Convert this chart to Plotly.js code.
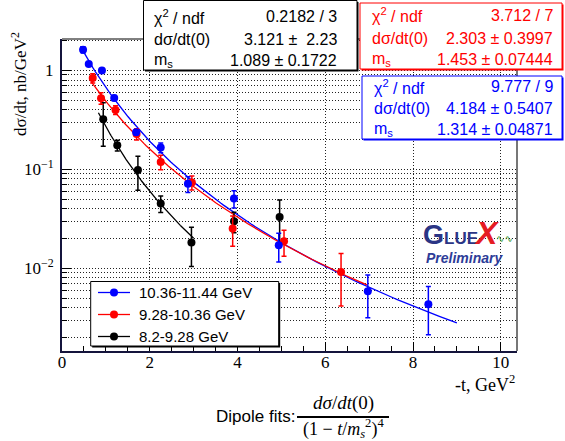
<!DOCTYPE html>
<html><head><meta charset="utf-8">
<script src="https://cdn.plot.ly/plotly-3.0.1.min.js"></script>
<style>html,body{margin:0;padding:0;background:#fff}#chart{width:565px;height:441px}</style>
</head><body><div id="chart"></div>
<script>
// ---- data ----
const seriesNames = ['10.36-11.44 GeV', '9.28-10.36 GeV', '8.2-9.28 GeV'];
const seriesColors = ['#0000ff', '#ff0000', '#000000'];

const blueT   = [0.48, 0.61, 0.91, 1.19, 1.69, 2.25, 2.87, 3.92, 4.94, 6.97, 8.35];
const blueY   = [1.62, 1.16, 1.00, 0.528, 0.237, 0.166, 0.0714, 0.0508, 0.0171, 0.00587, 0.00433];
const blueErr = [0.12, 0.045, 0.04, 0.03, 0.015, 0.019, 0.013, 0.010, 0.0055, 0.0027, 0.0022];

const redT    = [0.70, 0.89, 1.22, 1.70, 2.25, 2.96, 3.89, 5.06, 6.36];
const redY    = [0.838, 0.525, 0.399, 0.228, 0.119, 0.0738, 0.0252, 0.01875, 0.00915];
const redErr  = [0.09, 0.07, 0.04, 0.03, 0.02, 0.012, 0.0085, 0.0055, 0.005];

const blackT   = [0.94, 1.26, 1.73, 2.25, 2.95, 3.92, 4.96];
const blackY   = [0.321, 0.175, 0.0984, 0.0452, 0.0182, 0.0299, 0.033];
const blackErr = [0.15, 0.022, 0.037, 0.0085, 0.0078, 0.007, 0.016];

// dipole fit parameters shown in the stat boxes (blue, red, black)
const fitA    = [4.184, 2.303, 3.121];
const fitMs   = [1.314, 1.453, 1.089];
const fitTmin = [0.42, 0.66, 0.83];
const fitTmax = [9.0, 6.95, 3.0];

const statChi2 = ['9.777 / 9', '3.712 / 7', '0.2182 / 3'];
const statA    = ['4.184 ± 0.5407', '2.303 ± 0.3997', '3.121 ±\u00a0\u00a02.23'];
const statMs   = ['1.314 ± 0.04871', '1.453 ± 0.07444', '1.089 ± 0.1722'];

const xTickVals = [0, 2, 4, 6, 8, 10];
const yTickVals = [0.01, 0.1, 1];
const yTickText = ['10<sup>−2</sup>', '10<sup>−1</sup>', '1'];
const yMinorVals = [0.002,0.003,0.004,0.005,0.006,0.007,0.008,0.009,
                    0.02,0.03,0.04,0.05,0.06,0.07,0.08,0.09,
                    0.2,0.3,0.4,0.5,0.6,0.7,0.8,0.9,2];

// ---- layout helpers (pixel -> paper) ----
const L = 62, T = 39, W = 455, H = 312;
const px = x => (x - L) / W;
const py = y => (T + H - y) / H;

const pts = [[blueT, blueY, blueErr], [redT, redY, redErr], [blackT, blackY, blackErr]];
const traces = [];
for (let k = 0; k < 3; k++) {
  const xs = [], ys = [];
  const n = 150;
  for (let i = 0; i <= n; i++) {
    const t = fitTmin[k] + (fitTmax[k] - fitTmin[k]) * i / n;
    xs.push(t);
    ys.push(fitA[k] / Math.pow(1 + t / (fitMs[k] * fitMs[k]), 4));
  }
  traces.push({x: xs, y: ys, mode: 'lines', line: {color: seriesColors[k], width: 1.3}, showlegend: false, hoverinfo: 'skip'});
}
for (let k = 2; k >= 0; k--) {
  traces.push({
    x: pts[k][0], y: pts[k][1], mode: 'markers', name: seriesNames[k],
    marker: {color: seriesColors[k], size: 8},
    error_y: {type: 'data', array: pts[k][2], visible: true, color: seriesColors[k], thickness: 1.5, width: 2.5},
    showlegend: false
  });
}

const shapes = [];
const annotations = [];
const sans = 'Liberation Sans, Arial, sans-serif';
const serif = 'Liberation Serif, Times New Roman, serif';

shapes.push({type: 'line', xref: 'paper', yref: 'paper', x0: 0, x1: 1, y0: 1, y1: 1, line: {color: '#000', width: 1}});
shapes.push({type: 'line', xref: 'paper', yref: 'paper', x0: 1, x1: 1, y0: 0, y1: 1, line: {color: '#777', width: 2}});

function box(x0, y0, x1, y1, color) {
  shapes.push({type: 'rect', xref: 'paper', yref: 'paper', x0: px(x0 + 1.5), x1: px(x1 + 1.5), y0: py(y0 + 1.5), y1: py(y1 + 1.5),
    fillcolor: color, line: {width: 0}});
  shapes.push({type: 'rect', xref: 'paper', yref: 'paper', x0: px(x0), x1: px(x1), y0: py(y0), y1: py(y1),
    fillcolor: '#ffffff', line: {color: color, width: 1}});
}
function text(s, x, y, opts) {
  annotations.push(Object.assign({text: s, xref: 'paper', yref: 'paper', x: px(x), y: py(y), showarrow: false,
    xanchor: 'left', yanchor: 'middle', font: {family: sans, size: 16, color: '#000'}}, opts || {}));
}

const statBoxes = [
  {b: [362, 76, 562, 139], rows: [86.5, 108, 129.5], lx: 371.5, vx: 555},
  {b: [360, 3, 562, 69], rows: [15, 38, 59.5], lx: 369.5, vx: 555},
  {b: [143.5, 0.5, 357, 70], rows: [16.5, 39.5, 60.5], lx: 151.5, vx: 338.5}
];
statBoxes.forEach((s, k) => {
  box(s.b[0], s.b[1], s.b[2], s.b[3], seriesColors[k]);
  const c = seriesColors[k];
  text('χ<sup>2</sup> / ndf', s.lx, s.rows[0], {font: {family: sans, size: 16, color: c}});
  text('dσ/dt(0)', s.lx, s.rows[1], {font: {family: sans, size: 16, color: c}});
  text('m<sub>s</sub>', s.lx, s.rows[2], {font: {family: sans, size: 16, color: c}});
  text(statChi2[k], s.vx, s.rows[0], {xanchor: 'right', font: {family: sans, size: 16, color: c}});
  text(statA[k], s.vx, s.rows[1], {xanchor: 'right', font: {family: sans, size: 16, color: c}});
  text(statMs[k], s.vx, s.rows[2], {xanchor: 'right', font: {family: sans, size: 16, color: c}});
});

box(90.7, 281.5, 278.7, 346, '#000');
const legRows = [292.5, 314.5, 336.5];
legRows.forEach((yy, k) => {
  shapes.push({type: 'line', xref: 'paper', yref: 'paper', x0: px(98), x1: px(130), y0: py(yy), y1: py(yy),
    line: {color: seriesColors[k], width: 1.3}});
  shapes.push({type: 'circle', xref: 'paper', yref: 'paper', x0: px(110), x1: px(118), y0: py(yy - 4), y1: py(yy + 4),
    fillcolor: seriesColors[k], line: {width: 0}});
  text(seriesNames[k], 137, yy, {font: {family: sans, size: 15, color: '#000'}});
});

text('dσ/dt, nb/GeV<sup>2</sup>', 19, 84, {xanchor: 'center', textangle: -90, font: {family: serif, size: 17, color: '#000'}});
text('-t, GeV<sup>2</sup>', 517, 383, {xanchor: 'right', font: {family: serif, size: 18, color: '#000'}});

// GlueX logo
text('<b><span style="font-size:27px">G</span>LUE</b>', 421, 235, {font: {family: sans, size: 17, color: '#2b3585'}});
text('<b><i>X</i></b>', 486, 233, {xanchor: 'center', font: {family: sans, size: 32, color: '#e51c24'}});
text('∿∿', 504, 238, {xanchor: 'center', font: {family: 'DejaVu Sans', size: 10, color: '#3a9a3a'}});
text('<b><i>Preliminary</i></b>', 464, 258, {xanchor: 'center', font: {family: sans, size: 14, color: '#2d3c98'}});

// bottom formula
text('Dipole fits:', 214, 416, {font: {family: sans, size: 17, color: '#000'}});
text('<i>dσ</i>/<i>dt</i>(0)', 343, 403, {xanchor: 'center', font: {family: serif, size: 19, color: '#000'}});
shapes.push({type: 'line', xref: 'paper', yref: 'paper', x0: px(297), x1: px(389), y0: py(417), y1: py(417), line: {color: '#000', width: 2}});
text('(1 − <i>t</i>/<i>m</i><sub><i>s</i></sub><sup>2</sup>)<sup>4</sup>', 343, 428, {xanchor: 'center', font: {family: serif, size: 18, color: '#000'}});

const gridDash = '1px,2px';
const layout = {
  width: 565, height: 441,
  margin: {l: L, r: 565 - L - W, t: T, b: 441 - T - H},
  paper_bgcolor: '#fff', plot_bgcolor: '#fff',
  showlegend: false,
  xaxis: {
    range: [0, 10.37], tickvals: xTickVals, ticktext: xTickVals.map(String),
    ticks: 'inside', ticklen: 9, tickcolor: '#000', tickwidth: 1,
    ticklabelstandoff: -5,
    showline: true, linecolor: '#14143c', linewidth: 2,
    showgrid: true, gridcolor: '#222', griddash: gridDash, gridwidth: 1,
    zeroline: false,
    tickfont: {family: serif, size: 17, color: '#000'},
    minor: {dtick: 0.5, tick0: 0, ticks: 'inside', ticklen: 5, tickcolor: '#000', showgrid: false}
  },
  yaxis: {
    type: 'log', range: [-2.836, 0.318],
    tickvals: yTickVals, ticktext: yTickText,
    ticks: 'inside', ticklen: 9, tickcolor: '#000', tickwidth: 1,
    ticklabelstandoff: 3,
    showline: true, linecolor: '#14143c', linewidth: 2,
    showgrid: true, gridcolor: '#222', griddash: gridDash, gridwidth: 1,
    zeroline: false,
    tickfont: {family: serif, size: 17, color: '#000'},
    minor: {tickmode: 'array', tickvals: yMinorVals, ticks: 'inside', ticklen: 5, tickcolor: '#000',
            showgrid: true, gridcolor: '#222', griddash: gridDash, gridwidth: 1}
  },
  shapes: shapes,
  annotations: annotations
};

Plotly.newPlot('chart', traces, layout, {staticPlot: true, displayModeBar: false});
</script>
</body></html>
